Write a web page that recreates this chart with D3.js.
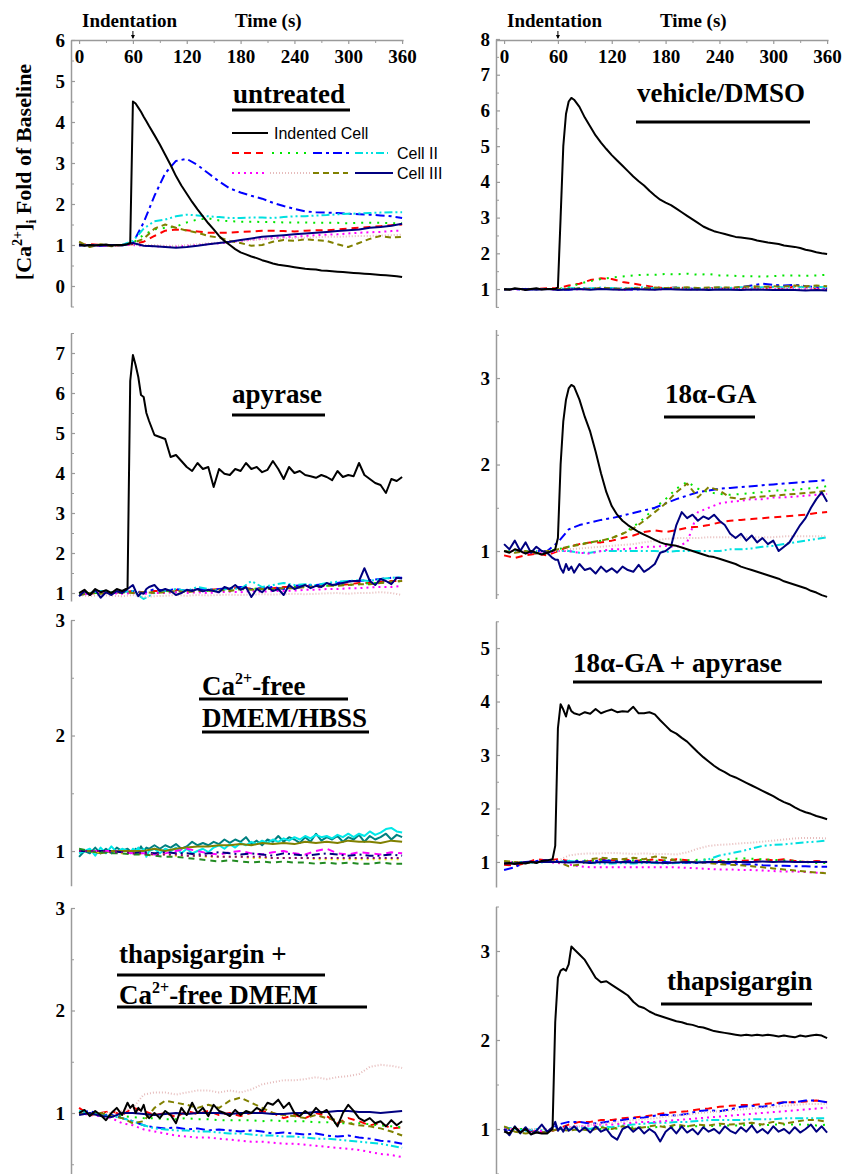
<!DOCTYPE html>
<html>
<head>
<meta charset="utf-8">
<script src="https://cdn.jsdelivr.net/npm/d3@7"></script>
<style>
  body { margin: 0; background: #fff; }
  svg text { font-family: "Liberation Serif", "Times New Roman", serif; font-weight: bold; fill: #000; }
</style>
</head>
<body>
<svg id="chart" width="845" height="1174"></svg>
<script>
'use strict'

//---------------------------Datos--------------------------------//
// tiempos (s): malla fina alrededor de la indentación y malla gruesa
const fineTimes = [0,6,12,18,24,30,36,42,48,54,57,60,63,66,69,72,75,78,84,90,96,102,108,114,120,126,132,138,144,150,156,162,168,174,180,186,192,198,204,210,216,222,228,234,240,246,252,258,264,270,276,282,288,294,300,306,312,318,324,330,336,342,348,354,360];
const coarseTimes = [0,12,24,36,48,60,72,84,96,108,120,132,144,156,168,180,192,204,216,228,240,252,264,276,288,300,312,324,336,348,360];
const timeTicks = [0,60,120,180,240,300,360];
const timeMinorTicks = [30,90,150,210,270,330];

// orden de las células vecinas: rojo, verde, azul, cian, magenta, rosa, oliva, marino
const untreatedIndented = [1.02,0.98,1.0,0.99,1.0,1.01,0.99,1.0,1.0,1.02, 1.05,4.5,4.45,4.35,4.25,4.13,4.02,3.9, 3.68,3.45,3.2,2.95,2.68,2.45,2.25,2.05,1.87,1.7, 1.53,1.38,1.22,1.1,1.0,0.9,0.82,0.77,0.72,0.68, 0.63,0.59,0.55,0.52,0.5,0.48,0.46,0.44,0.42,0.41, 0.4,0.38,0.37,0.36,0.35,0.34,0.33,0.32,0.31,0.3, 0.29,0.28,0.27,0.26,0.25,0.24,0.22];
const untreatedCells = [
  [1.0,1.02,1.0,0.98,1.0,1.02,1.08,1.22,1.35,1.38,1.36,1.33,1.3,1.3,1.3,1.32,1.33,1.35,1.35,1.34,1.33,1.35,1.36,1.36,1.38,1.4,1.42,1.44,1.46,1.48,1.5],
  [1.0,1.0,1.0,1.0,1.0,1.05,1.25,1.38,1.42,1.45,1.55,1.62,1.65,1.6,1.58,1.57,1.57,1.56,1.56,1.55,1.55,1.55,1.54,1.54,1.54,1.53,1.54,1.54,1.54,1.53,1.53],
  [1.0,1.0,0.98,1.0,1.0,1.05,1.55,2.2,2.75,3.05,3.1,2.95,2.75,2.55,2.38,2.28,2.2,2.13,2.03,1.95,1.88,1.82,1.8,1.79,1.78,1.76,1.75,1.74,1.72,1.7,1.66],
  [1.0,1.0,1.0,1.0,1.0,1.1,1.4,1.58,1.62,1.7,1.74,1.72,1.7,1.68,1.66,1.66,1.67,1.67,1.66,1.68,1.7,1.7,1.72,1.73,1.75,1.76,1.77,1.78,1.79,1.8,1.8],
  [1.0,1.0,0.98,1.0,1.0,1.0,0.98,0.97,0.96,0.96,0.98,1.0,1.02,1.04,1.07,1.1,1.13,1.15,1.17,1.19,1.2,1.22,1.24,1.25,1.26,1.28,1.3,1.31,1.32,1.34,1.35],
  [1.0,1.0,1.0,1.0,1.0,1.0,1.0,1.0,0.98,0.98,1.0,1.02,1.04,1.06,1.08,1.1,1.12,1.14,1.15,1.16,1.17,1.18,1.19,1.2,1.2,1.21,1.22,1.22,1.23,1.24,1.25],
  [1.08,0.95,1.02,0.97,1.0,1.05,1.15,1.4,1.5,1.42,1.35,1.3,1.22,1.18,1.1,1.05,0.98,1.0,1.08,1.12,1.1,1.14,1.12,1.1,1.02,0.95,1.05,1.15,1.22,1.18,1.2],
  [0.98,1.0,0.99,1.0,0.99,1.05,0.98,0.97,0.95,0.93,0.95,0.98,1.02,1.05,1.08,1.12,1.16,1.2,1.22,1.24,1.26,1.28,1.3,1.32,1.34,1.36,1.38,1.42,1.44,1.47,1.52]
];

const dmsoIndented = [1.0,0.98,1.02,1.0,0.97,1.0,1.02,0.99,1.0,1.0, 1.0,1.05,3.0,5.0,5.9,6.25,6.35,6.3, 6.1,5.8,5.55,5.3,5.1,4.92,4.75,4.6,4.45,4.3, 4.15,4.02,3.9,3.75,3.62,3.5,3.42,3.35,3.25,3.15, 3.05,2.95,2.85,2.75,2.68,2.62,2.58,2.54,2.5,2.46, 2.44,2.42,2.4,2.36,2.33,2.3,2.28,2.26,2.22,2.2, 2.18,2.15,2.1,2.07,2.03,2.0,1.98];
const dmsoCells = [
  [1.0,1.0,1.0,1.0,1.02,1.02,1.1,1.15,1.25,1.3,1.28,1.2,1.15,1.1,1.05,1.02,1.05,1.02,1.0,1.03,1.02,1.0,1.03,1.05,1.02,1.05,1.0,1.08,1.05,1.02,1.0],
  [1.0,1.0,1.0,1.0,1.0,1.0,1.05,1.15,1.22,1.28,1.32,1.35,1.38,1.4,1.4,1.42,1.41,1.43,1.4,1.42,1.38,1.38,1.36,1.36,1.35,1.36,1.38,1.38,1.37,1.38,1.4],
  [1.0,1.0,0.98,1.0,1.0,1.0,0.98,1.02,1.0,1.0,1.02,1.0,0.98,1.0,1.02,1.0,1.0,1.02,1.0,1.0,1.02,1.0,1.05,1.1,1.15,1.12,1.1,1.12,1.08,1.05,1.02],
  [1.0,1.0,1.0,1.0,1.0,1.0,1.02,1.03,1.02,1.04,1.03,1.02,1.03,1.05,1.02,1.03,1.04,1.03,1.02,1.03,1.04,1.03,1.05,1.04,1.05,1.06,1.05,1.06,1.05,1.06,1.05],
  [1.0,0.99,1.0,1.0,1.0,0.98,1.0,0.99,1.0,1.01,1.0,0.98,1.0,1.0,0.99,1.0,1.01,1.0,0.99,1.0,1.0,1.01,1.0,0.99,1.0,1.0,1.01,1.0,1.0,1.01,1.0],
  [1.0,1.0,1.01,1.0,1.0,1.0,1.01,1.0,1.02,1.0,1.01,1.0,1.02,1.01,1.0,1.02,1.01,1.02,1.0,1.01,1.02,1.0,1.01,1.02,1.01,1.0,1.02,1.01,1.02,1.01,1.02],
  [0.98,1.0,1.0,1.0,1.0,1.0,1.0,1.02,1.0,1.03,1.02,1.0,1.03,1.02,1.04,1.03,1.02,1.05,1.03,1.04,1.05,1.04,1.06,1.08,1.06,1.08,1.07,1.1,1.08,1.1,1.08],
  [0.98,1.0,1.0,0.98,1.0,0.97,0.99,1.0,0.98,1.0,0.99,0.98,1.0,0.99,0.98,1.0,0.99,0.98,0.99,0.97,0.99,0.98,0.97,0.99,0.98,0.97,0.98,0.97,0.96,0.97,0.96]
];

const apyraseIndented = [1.0,1.08,0.95,1.1,1.02,1.07,1.0,1.1,1.05,1.12, 6.3,6.95,6.7,6.4,5.95,5.9,5.5,5.3, 4.95,4.9,4.85,4.4,4.45,4.3,4.15,4.05,4.25,4.1, 4.15,3.65,4.1,3.98,3.95,4.1,4.05,4.25,4.1,4.15, 4.02,4.08,4.3,4.1,3.85,4.15,4.0,4.05,3.95,3.92, 3.88,3.95,3.9,3.82,4.05,3.9,3.95,3.92,4.25,3.95, 3.85,3.75,3.7,3.5,3.85,3.8,3.9];
const apyraseCells = [
  [1.0,0.98,1.02,1.0,1.02,1.05,1.02,1.05,1.05,1.08,1.05,1.1,1.08,1.1,1.1,1.15,1.1,1.12,1.12,1.15,1.15,1.18,1.15,1.2,1.2,1.22,1.25,1.25,1.28,1.3,1.3],
  [0.98,1.0,1.0,1.02,1.0,1.03,1.0,1.02,1.05,1.03,1.05,1.08,1.05,1.08,1.08,1.1,1.1,1.12,1.1,1.12,1.15,1.15,1.18,1.18,1.2,1.2,1.22,1.25,1.25,1.28,1.3],
  [0.95,1.0,1.05,1.0,1.05,1.05,1.0,1.1,1.05,1.1,1.05,1.1,1.08,1.1,1.12,1.15,1.1,1.12,1.15,1.1,1.18,1.2,1.2,1.22,1.25,1.3,1.3,1.32,1.35,1.38,1.38],
  [0.95,1.0,1.05,1.0,1.02,1.05,0.85,1.0,1.05,1.1,1.05,1.15,1.1,1.05,1.12,1.1,1.3,1.15,1.2,1.25,1.2,1.22,1.2,1.25,1.28,1.3,1.32,1.3,1.35,1.38,1.4],
  [0.95,0.98,1.0,1.0,0.98,1.0,0.98,1.0,1.0,1.02,1.0,1.02,1.0,1.02,1.03,1.02,1.05,1.03,1.05,1.05,1.06,1.08,1.08,1.1,1.1,1.12,1.12,1.14,1.15,1.15,1.18],
  [0.95,0.92,0.95,0.93,0.92,0.95,0.9,0.92,0.93,0.95,0.93,0.95,0.94,0.95,0.96,0.95,0.96,0.97,0.96,0.97,0.98,0.97,0.98,0.99,1.0,0.98,1.0,1.0,1.02,1.0,0.95],
  [0.95,1.0,0.98,1.0,1.02,1.0,1.02,1.0,1.02,1.05,1.02,1.05,1.05,1.08,1.05,1.1,1.08,1.1,1.1,1.12,1.12,1.15,1.15,1.18,1.18,1.2,1.22,1.22,1.25,1.28,1.3],
  [0.92,1.05,0.95,1.08,0.88,1.02,0.95,1.05,1.0,1.1, 1.15,1.2,1.05,0.92,1.0,0.98,1.1,1.15, 1.2,1.05,1.1,1.05,0.95,1.0,1.08,1.05,1.1,1.04, 1.08,1.05,1.02,1.15,1.1,1.2,1.08,1.15,0.9,1.1, 1.02,1.15,1.05,1.1,0.95,1.2,1.1,1.15,1.2,1.12, 1.18,1.15,1.25,1.2,1.22,1.25,1.28,1.3,1.3,1.62, 1.3,1.2,1.35,1.3,1.22,1.38,1.36]
];

const gaIndented = [1.0,0.98,1.02,1.0,0.97,1.0,0.98,0.96,0.98,1.0, 1.02,1.15,2.0,2.5,2.75,2.88,2.92,2.9, 2.75,2.55,2.38,2.15,1.9,1.68,1.52,1.42,1.35,1.3, 1.26,1.22,1.19,1.16,1.13,1.1,1.08,1.07,1.06,1.04, 1.02,1.0,0.98,0.96,0.94,0.93,0.91,0.89,0.87,0.85, 0.82,0.8,0.78,0.76,0.74,0.72,0.7,0.68,0.65,0.63, 0.61,0.59,0.57,0.54,0.52,0.49,0.47];
const gaCells = [
  [0.95,0.92,0.95,0.97,0.95,1.0,1.05,1.08,1.1,1.1,1.12,1.15,1.18,1.22,1.24,1.22,1.24,1.27,1.28,1.3,1.33,1.35,1.36,1.37,1.38,1.39,1.4,1.41,1.42,1.44,1.45],
  [1.0,1.0,1.0,1.0,1.0,1.02,1.05,1.08,1.1,1.12,1.15,1.2,1.28,1.38,1.5,1.6,1.72,1.8,1.72,1.68,1.66,1.65,1.66,1.67,1.68,1.7,1.7,1.71,1.72,1.73,1.75],
  [1.0,1.0,0.98,1.0,1.0,1.1,1.25,1.3,1.33,1.36,1.38,1.41,1.44,1.47,1.5,1.55,1.6,1.64,1.68,1.7,1.72,1.73,1.74,1.75,1.76,1.77,1.78,1.79,1.8,1.81,1.82],
  [1.0,1.0,1.0,1.0,1.0,1.0,1.0,0.98,0.98,1.0,1.0,1.0,1.0,1.0,1.0,0.99,1.0,1.0,1.0,1.0,1.0,1.02,1.02,1.03,1.05,1.06,1.08,1.1,1.12,1.14,1.16],
  [1.0,1.0,0.98,0.97,0.98,1.0,1.0,0.98,0.97,1.0,1.02,1.02,1.03,1.05,1.05,1.06,1.05,1.1,1.45,1.5,1.55,1.57,1.58,1.6,1.6,1.62,1.62,1.63,1.64,1.65,1.66],
  [1.0,1.0,1.0,1.0,1.0,1.0,1.02,1.03,1.04,1.05,1.06,1.07,1.08,1.1,1.12,1.14,1.15,1.15,1.15,1.16,1.16,1.16,1.16,1.16,1.16,1.16,1.17,1.17,1.17,1.17,1.17],
  [1.0,0.98,1.0,0.97,1.0,1.02,1.05,1.07,1.1,1.12,1.15,1.2,1.26,1.35,1.45,1.55,1.68,1.78,1.62,1.74,1.7,1.62,1.6,1.62,1.63,1.64,1.65,1.66,1.67,1.68,1.7],
  [1.08,1.02,1.12,1.0,1.1,0.98,1.05,1.0,0.98,0.92, 0.9,0.9,0.8,0.75,0.85,0.78,0.82,0.75, 0.85,0.78,0.8,0.74,0.82,0.76,0.8,0.75,0.82,0.78, 0.76,0.84,0.76,0.8,0.85,0.98,1.0,1.05,1.3,1.45, 1.38,1.42,1.35,1.4,1.37,1.42,1.35,1.3,1.2,1.15, 1.2,1.12,1.18,1.1,1.15,1.08,1.12,1.0,1.05,1.1, 1.2,1.3,1.38,1.5,1.6,1.68,1.57]
];

// Ca2+-free: verde azulado, cian, oliva, magenta, marino, amarillo, verde, púrpura
const caFreeCells = [
  [0.95,1.0,0.98,1.03,0.98,1.02,0.98,1.03,1.0,1.02, 1.0,0.98,1.02,1.0,1.04,1.0,1.03,1.02, 1.05,1.02,1.05,1.03,1.06,1.02,1.04,1.08,1.05,1.07, 1.05,1.08,1.06,1.1,1.07,1.1,1.08,1.12,1.06,1.09, 1.05,1.1,1.08,1.13,1.08,1.12,1.1,1.07,1.12,1.08, 1.15,1.09,1.12,1.1,1.13,1.08,1.12,1.1,1.14,1.08, 1.13,1.1,1.12,1.15,1.1,1.14,1.12],
  [0.98,1.0,1.02,0.96,1.03,0.98,1.04,0.99,1.02,1.0, 0.98,1.02,1.0,1.03,0.98,1.02,0.95,1.0, 1.02,0.98,1.02,1.0,1.03,0.98,1.02,0.98,1.0,1.02, 0.99,1.03,1.05,1.02,1.06,1.03,1.07,1.05,1.08,1.06, 1.09,1.07,1.1,1.08,1.11,1.09,1.12,1.1,1.13,1.11, 1.14,1.12,1.13,1.11,1.14,1.12,1.15,1.12,1.15,1.13, 1.17,1.14,1.16,1.19,1.2,1.17,1.16],
  [1.0,1.0,0.98,1.0,1.0,1.0,1.0,1.02,1.0,1.02,1.03,1.04,1.04,1.05,1.05,1.06,1.05,1.07,1.06,1.07,1.06,1.08,1.07,1.08,1.07,1.09,1.08,1.08,1.07,1.09,1.08],
  [1.0,1.0,1.0,1.0,0.99,0.98,0.98,0.97,0.98,1.0,1.02,1.0,0.98,0.97,0.99,1.0,0.98,0.97,0.99,1.0,0.98,0.97,1.0,1.02,0.98,0.97,0.99,0.98,0.97,0.99,0.98],
  [1.0,1.0,1.0,1.0,0.99,0.98,0.99,0.98,0.99,0.98,0.98,0.97,0.98,0.99,0.98,0.97,0.98,0.97,0.96,0.98,0.97,0.96,0.97,0.98,0.97,0.96,0.97,0.96,0.96,0.97,0.96],
  [1.0,1.0,0.99,0.99,0.98,0.98,0.97,0.97,0.97,0.96,0.96,0.96,0.95,0.95,0.95,0.95,0.94,0.94,0.94,0.94,0.94,0.94,0.93,0.93,0.93,0.93,0.93,0.93,0.93,0.93,0.93],
  [1.02,1.0,0.99,0.98,0.98,0.97,0.97,0.96,0.95,0.95,0.94,0.93,0.92,0.91,0.92,0.91,0.9,0.91,0.9,0.91,0.9,0.9,0.89,0.9,0.89,0.9,0.89,0.89,0.9,0.89,0.89],
  [1.0,1.0,1.0,0.99,0.99,0.98,0.98,0.97,0.97,0.97,0.96,0.96,0.96,0.95,0.95,0.95,0.95,0.95,0.94,0.94,0.94,0.94,0.94,0.94,0.94,0.94,0.94,0.94,0.94,0.94,0.94]
];

const gaApyraseIndented = [0.97,0.98,0.96,0.98,0.97,1.0,0.98,1.02,1.03,1.05, 1.3,3.5,3.95,3.85,3.72,3.93,3.82,3.78, 3.75,3.8,3.77,3.86,3.78,3.82,3.85,3.8,3.82,3.81, 3.9,3.78,3.78,3.8,3.76,3.65,3.55,3.45,3.4,3.32, 3.25,3.15,3.05,2.96,2.88,2.8,2.73,2.68,2.62,2.58, 2.53,2.48,2.43,2.38,2.33,2.28,2.23,2.17,2.12,2.08, 2.02,1.97,1.93,1.9,1.86,1.83,1.8];
const gaApyraseCells = [
  [0.95,0.93,0.98,1.05,1.03,1.05,1.02,1.0,1.02,1.05,1.03,1.05,1.02,1.03,1.05,1.02,1.05,1.03,1.0,1.0,1.02,1.0,1.02,1.03,1.05,1.03,1.05,1.02,1.0,1.02,1.0],
  [1.0,1.0,1.0,1.0,1.02,1.0,1.02,1.03,1.02,1.04,1.03,1.02,1.03,1.04,1.02,1.03,1.05,1.03,1.04,1.05,1.03,1.05,1.07,1.06,1.05,1.04,1.03,1.02,1.0,0.98,0.98],
  [0.85,0.9,1.0,1.02,1.03,1.02,1.0,1.02,1.0,1.03,1.02,1.0,1.02,1.0,0.99,1.0,0.98,0.99,0.98,1.0,0.98,0.97,0.95,0.96,0.94,0.93,0.93,0.92,0.92,0.91,0.91],
  [1.0,1.0,1.0,0.98,1.0,1.0,1.02,1.0,0.98,0.97,0.97,0.98,0.97,0.98,0.98,0.97,0.98,0.98,1.0,1.05,1.12,1.16,1.2,1.25,1.3,1.32,1.33,1.35,1.37,1.38,1.4],
  [1.0,1.0,1.0,1.0,1.0,0.98,0.95,0.92,0.9,0.9,0.9,0.9,0.9,0.9,0.9,0.9,0.9,0.89,0.88,0.87,0.86,0.86,0.85,0.85,0.84,0.83,0.82,0.82,0.81,0.8,0.8],
  [1.0,1.0,1.0,1.0,1.0,1.02,1.12,1.15,1.16,1.16,1.17,1.16,1.15,1.16,1.15,1.15,1.14,1.18,1.25,1.3,1.32,1.33,1.35,1.36,1.38,1.4,1.42,1.44,1.45,1.45,1.44],
  [1.02,1.0,0.98,1.0,1.0,1.0,0.92,0.95,1.05,1.08,1.06,1.05,1.08,1.05,1.1,1.08,1.02,1.0,1.0,0.98,0.96,0.95,0.94,0.92,0.9,0.88,0.86,0.84,0.82,0.8,0.79],
  [0.97,0.97,1.0,1.0,1.0,1.0,0.99,1.0,0.98,1.0,0.99,1.0,0.99,1.0,0.99,0.98,0.99,1.0,0.99,1.0,1.0,1.0,1.0,1.0,1.01,1.0,1.01,1.0,1.0,1.0,1.0]
];

const tgCaFreeIndented = [1.0,1.03,0.97,1.02,0.98,0.93,1.0,1.05,0.98,1.1, 1.05,1.08,1.0,1.05,1.02,1.08,0.98,0.95, 1.0,0.95,1.02,0.98,0.9,1.05,0.98,1.1,1.0,1.05, 0.97,1.08,1.02,1.0,0.97,1.03,0.98,1.02,1.0,1.05, 1.02,1.1,1.08,1.13,1.05,1.1,1.0,0.97,1.02,0.98, 1.05,1.0,1.03,0.95,0.87,1.0,1.08,1.02,0.95,0.92, 0.95,0.9,0.92,0.87,0.93,0.88,0.92];
const tgCaFreeCells = [
  [1.05,0.98,1.0,1.02,0.98,1.05,1.02,0.98,1.0,0.96,1.02,0.99,1.02,0.98,1.0,0.97,1.0,1.02,1.0,0.95,0.98,0.95,1.0,0.97,0.9,0.95,0.92,0.88,0.9,0.85,0.86],
  [1.0,1.0,1.0,0.98,0.97,0.96,0.95,0.95,0.94,0.94,0.95,0.94,0.94,0.93,0.93,0.93,0.93,0.92,0.93,0.92,0.92,0.92,0.91,0.91,0.9,0.9,0.9,0.89,0.88,0.87,0.86],
  [1.0,1.02,0.98,0.98,0.95,0.92,0.88,0.86,0.85,0.86,0.84,0.85,0.83,0.84,0.83,0.82,0.83,0.82,0.8,0.81,0.8,0.79,0.8,0.78,0.77,0.78,0.76,0.75,0.73,0.72,0.7],
  [1.02,1.0,0.98,0.97,0.95,0.92,0.88,0.85,0.84,0.83,0.83,0.82,0.82,0.81,0.8,0.8,0.79,0.78,0.78,0.77,0.77,0.76,0.75,0.75,0.74,0.73,0.72,0.71,0.7,0.68,0.66],
  [1.0,0.98,0.97,0.95,0.9,0.88,0.84,0.82,0.8,0.78,0.77,0.76,0.76,0.75,0.74,0.73,0.72,0.72,0.71,0.7,0.7,0.69,0.68,0.67,0.66,0.65,0.64,0.62,0.6,0.59,0.57],
  [1.0,1.0,1.0,1.0,1.02,1.05,1.18,1.2,1.2,1.18,1.2,1.22,1.22,1.2,1.22,1.2,1.23,1.28,1.3,1.32,1.32,1.33,1.35,1.33,1.35,1.36,1.38,1.45,1.47,1.46,1.44],
  [1.0,0.98,1.0,0.97,0.95,0.9,0.92,1.05,1.12,1.1,1.08,1.05,1.08,1.05,1.12,1.15,1.1,1.05,1.0,0.98,0.97,0.95,0.98,0.95,0.93,0.9,0.88,0.87,0.85,0.82,0.78],
  [0.98,1.0,0.97,0.96,1.0,1.0,0.99,0.98,0.99,1.0,0.99,1.0,1.0,1.0,0.99,1.0,1.0,1.0,0.99,0.99,1.0,1.0,1.01,1.01,1.02,1.02,1.01,1.01,1.0,1.01,1.02]
];

const tgIndented = [0.97,0.95,1.02,0.96,1.0,0.94,0.96,0.95,0.95,1.0, 2.2,2.7,2.78,2.8,2.78,2.85,3.05,3.02, 2.96,2.9,2.8,2.7,2.65,2.66,2.62,2.58,2.54,2.5, 2.43,2.38,2.36,2.32,2.29,2.27,2.25,2.23,2.21,2.2, 2.18,2.17,2.15,2.14,2.12,2.1,2.09,2.08,2.07,2.06, 2.05,2.06,2.05,2.06,2.05,2.06,2.05,2.04,2.05,2.04, 2.03,2.05,2.04,2.05,2.06,2.05,2.02];
const tgCells = [
  [1.02,1.0,0.98,0.97,0.96,1.0,1.05,1.08,1.08,1.1,1.1,1.12,1.13,1.14,1.16,1.18,1.19,1.2,1.22,1.23,1.25,1.26,1.27,1.27,1.28,1.29,1.3,1.3,1.31,1.32,1.3],
  [1.0,1.0,1.0,0.97,0.97,1.0,1.0,0.99,1.0,1.0,1.0,1.01,1.02,1.02,1.02,1.03,1.02,1.03,1.03,1.03,1.04,1.04,1.04,1.05,1.04,1.05,1.05,1.05,1.05,1.04,1.05],
  [1.0,0.98,1.0,0.97,0.96,1.05,1.08,1.08,1.06,1.07,1.09,1.1,1.12,1.13,1.15,1.16,1.15,1.17,1.2,1.21,1.2,1.22,1.25,1.26,1.25,1.27,1.3,1.3,1.32,1.32,1.3],
  [1.02,1.0,0.98,1.0,0.97,1.02,1.0,1.02,1.0,1.03,1.02,1.04,1.05,1.06,1.07,1.07,1.08,1.08,1.09,1.1,1.1,1.1,1.1,1.11,1.11,1.11,1.12,1.12,1.12,1.12,1.12],
  [1.0,1.0,0.98,0.98,0.97,1.0,1.02,1.03,1.04,1.05,1.05,1.06,1.07,1.08,1.08,1.09,1.1,1.11,1.12,1.13,1.14,1.15,1.16,1.17,1.18,1.19,1.2,1.21,1.22,1.23,1.24],
  [1.0,1.0,1.0,1.0,1.0,1.0,1.02,1.03,1.05,1.06,1.07,1.08,1.1,1.11,1.12,1.14,1.15,1.16,1.18,1.19,1.2,1.21,1.22,1.23,1.24,1.25,1.26,1.27,1.28,1.28,1.28],
  [1.03,0.97,0.95,0.97,0.96,1.0,0.98,1.0,0.98,1.02,1.0,1.03,1.0,1.02,1.04,1.02,1.05,1.03,1.05,1.04,1.06,1.05,1.06,1.07,1.05,1.08,1.06,1.08,1.1,1.1,1.08],
  [1.0,0.93,1.03,0.95,1.02,0.94,0.98,1.05,0.97,1.02, 1.08,0.98,1.02,0.97,1.03,0.98,1.0,1.03, 0.97,1.02,0.96,1.03,0.97,1.0,0.92,0.88,1.0,1.03, 0.97,1.02,0.95,1.0,0.96,0.86,0.97,1.02,0.95,1.03, 0.96,1.0,0.94,1.02,0.97,1.0,0.95,1.03,0.98,0.95, 1.02,0.97,1.04,0.96,1.0,0.95,1.03,0.97,1.0,0.95, 1.02,0.96,1.0,1.05,0.97,1.03,0.96]
];

//---------------------------Estilos--------------------------------//
const cellStyles = [
  { color: '#ff0000', dash: '7,5' },
  { color: '#00e600', dash: '2,6' },
  { color: '#0000ff', dash: '9,4,3,4' },
  { color: '#00e0e0', dash: '8,3,2,3,2,3' },
  { color: '#ff00ff', dash: '2,4' },
  { color: '#e6bcbc', dash: '1,2' },
  { color: '#808000', dash: '6,4' },
  { color: '#000080', dash: null }
];
const caFreeStyles = [
  { color: '#008080', dash: null },
  { color: '#00e8e8', dash: null },
  { color: '#808000', dash: null },
  { color: '#ff00ff', dash: '7,5' },
  { color: '#000080', dash: '8,4,2,4' },
  { color: '#e6e600', dash: '2,4' },
  { color: '#228b22', dash: '6,5' },
  { color: '#800080', dash: '2,4' }
];

const panels = [
  { side: 'L', yDomain: [-0.5, 6], yRange: [306.5, 40], yTicks: [0,1,2,3,4,5,6], black: untreatedIndented, cells: untreatedCells, styles: cellStyles, top: true,
    titles: [{ x: 233, y: 103, parts: [['untreated']], ul: [232, 350, 110] }] },
  { side: 'R', yDomain: [0.5, 8], yRange: [306.9, 39], yTicks: [1,2,3,4,5,6,7,8], black: dmsoIndented, cells: dmsoCells, styles: cellStyles, top: true,
    titles: [{ x: 637, y: 102, parts: [['vehicle/DMSO']], ul: [636, 810, 122] }] },
  { side: 'L', yDomain: [0.8, 7.5], yRange: [601, 333], yTicks: [1,2,3,4,5,6,7], black: apyraseIndented, cells: apyraseCells, styles: cellStyles,
    titles: [{ x: 232, y: 403, parts: [['apyrase']], ul: [232, 325, 415] }] },
  { side: 'R', yDomain: [0.45, 3.56], yRange: [598.6, 329.6], yTicks: [1,2,3], black: gaIndented, cells: gaCells, styles: cellStyles,
    titles: [{ x: 665, y: 403, parts: [['18α-GA']], ul: [664, 755, 417] }] },
  { side: 'L', yDomain: [0.7, 3], yRange: [885.7, 620], yTicks: [1,2,3], black: null, cells: caFreeCells, styles: caFreeStyles,
    titles: [{ x: 202, y: 695, parts: [['Ca'], ['2+', 'sup'], ['-free']], ul: [199, 348, 699] },
             { x: 202, y: 727, parts: [['DMEM/HBSS']], ul: [202, 369, 732] }] },
  { side: 'R', yDomain: [0.53, 5.5], yRange: [887.1, 621.3], yTicks: [1,2,3,4,5], black: gaApyraseIndented, cells: gaApyraseCells, styles: cellStyles,
    titles: [{ x: 573, y: 672, parts: [['18α-GA + apyrase']], ul: [573, 822, 682] }] },
  { side: 'L', yDomain: [0.4, 3], yRange: [1174.5, 908], yTicks: [1,2,3], black: tgCaFreeIndented, cells: tgCaFreeCells, styles: cellStyles,
    titles: [{ x: 119, y: 963, parts: [['thapsigargin +']], ul: [117, 325, 975] },
             { x: 119, y: 1004, parts: [['Ca'], ['2+', 'sup'], ['-free DMEM']], ul: [117, 367, 1007] }] },
  { side: 'R', yDomain: [0.5, 3.5], yRange: [1173.5, 906.5], yTicks: [1,2,3], black: tgIndented, cells: tgCells, styles: cellStyles,
    titles: [{ x: 667, y: 990, parts: [['thapsigargin']], ul: [661, 812, 1004] }] }
];

//---------------------------Dibujo--------------------------------//
const svg = d3.select('#chart');
svg.append('rect').attr('width', 845).attr('height', 1174).attr('fill', '#fff');

const xLeft = d3.scaleLinear().domain([-9, 361]).range([71, 403]);
const xRight = d3.scaleLinear().domain([-9, 361]).range([496, 828]);
const axisGray = '#9a9a9a';

function styleAxis(g, size) {
  g.attr('font-family', null).attr('font-size', null);
  g.select('.domain').attr('stroke', axisGray).attr('stroke-width', 1.5);
  g.selectAll('.tick line').attr('stroke', axisGray).attr('stroke-width', 1.2);
  g.selectAll('.tick text').attr('font-size', size).attr('fill', '#000');
}

panels.forEach(function (p) {
  const x = p.side === 'L' ? xLeft : xRight;
  const y = d3.scaleLinear().domain(p.yDomain).range(p.yRange);
  const g = svg.append('g');
  const axisX = x.range()[0];

  // eje Y con marcas menores cada 0.5
  const minor = d3.range(Math.ceil(p.yDomain[0] * 2) / 2, p.yDomain[1] + 1e-9, 0.5).filter(v => v % 1 !== 0);
  const yMinor = g.append('g').attr('transform', 'translate(' + axisX + ',0)')
    .call(d3.axisLeft(y).tickValues(minor).tickSize(-3).tickSizeOuter(0).tickFormat(''));
  yMinor.select('.domain').remove();
  yMinor.selectAll('.tick line').attr('stroke', axisGray);
  const yAxis = g.append('g').attr('transform', 'translate(' + axisX + ',0)')
    .call(d3.axisLeft(y).tickValues(p.yTicks).tickSize(-4).tickSizeOuter(0).tickPadding(6).tickFormat(d3.format('d')));
  styleAxis(yAxis, 19);

  // eje de tiempo arriba
  if (p.top) {
    const xMinor = g.append('g').attr('transform', 'translate(0,40)')
      .call(d3.axisBottom(x).tickValues(timeMinorTicks).tickSize(3).tickFormat(''));
    xMinor.select('.domain').remove();
    xMinor.selectAll('.tick line').attr('stroke', axisGray);
    const xAxis = g.append('g').attr('transform', 'translate(0,40)')
      .call(d3.axisBottom(x).tickValues(timeTicks).tickSize(4).tickSizeOuter(0).tickPadding(6));
    styleAxis(xAxis, 19);

    const ax = x(60);
    g.append('line').attr('x1', ax).attr('x2', ax).attr('y1', 31).attr('y2', 38)
      .attr('stroke', '#000').attr('stroke-width', 1);
    g.append('path').attr('d', 'M' + (ax - 2) + ',35 L' + (ax + 2) + ',35 L' + ax + ',39 Z').attr('fill', '#000');
    g.append('text').attr('x', axisX + 11).attr('y', 27).attr('font-size', 19).text('Indentation');
    g.append('text').attr('x', axisX + 164).attr('y', 27).attr('font-size', 19).text('Time (s)');
  }

  // trazas
  const line = function (times) {
    return d3.line().x((d, i) => x(times[i])).y(d => y(d));
  };
  p.cells.forEach(function (vals, i) {
    const times = vals.length === fineTimes.length ? fineTimes : coarseTimes;
    const st = p.styles[i];
    g.append('path').datum(vals)
      .attr('fill', 'none')
      .attr('stroke', st.color)
      .attr('stroke-width', 2)
      .attr('stroke-dasharray', st.dash)
      .attr('stroke-linejoin', 'round')
      .attr('d', line(times));
  });
  if (p.black) {
    g.append('path').datum(p.black)
      .attr('fill', 'none')
      .attr('stroke', '#000')
      .attr('stroke-width', 2)
      .attr('stroke-linejoin', 'round')
      .attr('d', line(fineTimes));
  }

  // títulos subrayados
  p.titles.forEach(function (t) {
    const txt = g.append('text').attr('x', t.x).attr('y', t.y).attr('font-size', 27);
    let raised = false;
    t.parts.forEach(function (part) {
      const ts = txt.append('tspan').text(part[0]);
      if (part[1] === 'sup') {
        ts.attr('dy', -11).attr('font-size', 16);
        raised = true;
      } else if (raised) {
        ts.attr('dy', 11);
        raised = false;
      }
    });
    g.append('line').attr('x1', t.ul[0]).attr('x2', t.ul[1]).attr('y1', t.ul[2]).attr('y2', t.ul[2])
      .attr('stroke', '#000').attr('stroke-width', 3);
  });
});

//---------------------------Leyenda--------------------------------//
const legend = svg.append('g').attr('font-family', 'Liberation Sans, Arial, sans-serif');
function legendSeg(x1, x2, yy, st) {
  legend.append('line').attr('x1', x1).attr('x2', x2).attr('y1', yy).attr('y2', yy)
    .attr('stroke', st.color).attr('stroke-width', 2).attr('stroke-dasharray', st.dash);
}
legendSeg(232, 268, 133, { color: '#000', dash: null });
legendSeg(232, 268, 153, cellStyles[0]);
legendSeg(272, 307, 153, cellStyles[1]);
legendSeg(313, 352, 153, cellStyles[2]);
legendSeg(355, 388, 153, cellStyles[3]);
legendSeg(232, 265, 173, cellStyles[4]);
legendSeg(270, 310, 173, cellStyles[5]);
legendSeg(313, 348, 173, cellStyles[6]);
legendSeg(355, 393, 173, cellStyles[7]);
[['Indented Cell', 274, 139], ['Cell II', 397, 159], ['Cell III', 397, 179]].forEach(function (l) {
  legend.append('text').attr('x', l[1]).attr('y', l[2]).attr('font-size', 16)
    .style('font-family', 'Liberation Sans, Arial, sans-serif').style('font-weight', 'normal').text(l[0]);
});

//---------------------------Título del eje Y--------------------------------//
const yTitle = svg.append('text').attr('transform', 'translate(31,172) rotate(-90)')
  .attr('text-anchor', 'middle').attr('font-size', 22);
yTitle.append('tspan').text('[Ca');
yTitle.append('tspan').attr('dy', -9).attr('font-size', 14).text('2+');
yTitle.append('tspan').attr('dy', 9).text(']');
yTitle.append('tspan').attr('dy', 5).attr('font-size', 14).text('i');
yTitle.append('tspan').attr('dy', -5).text(' Fold of Baseline');
</script>
</body>
</html>
